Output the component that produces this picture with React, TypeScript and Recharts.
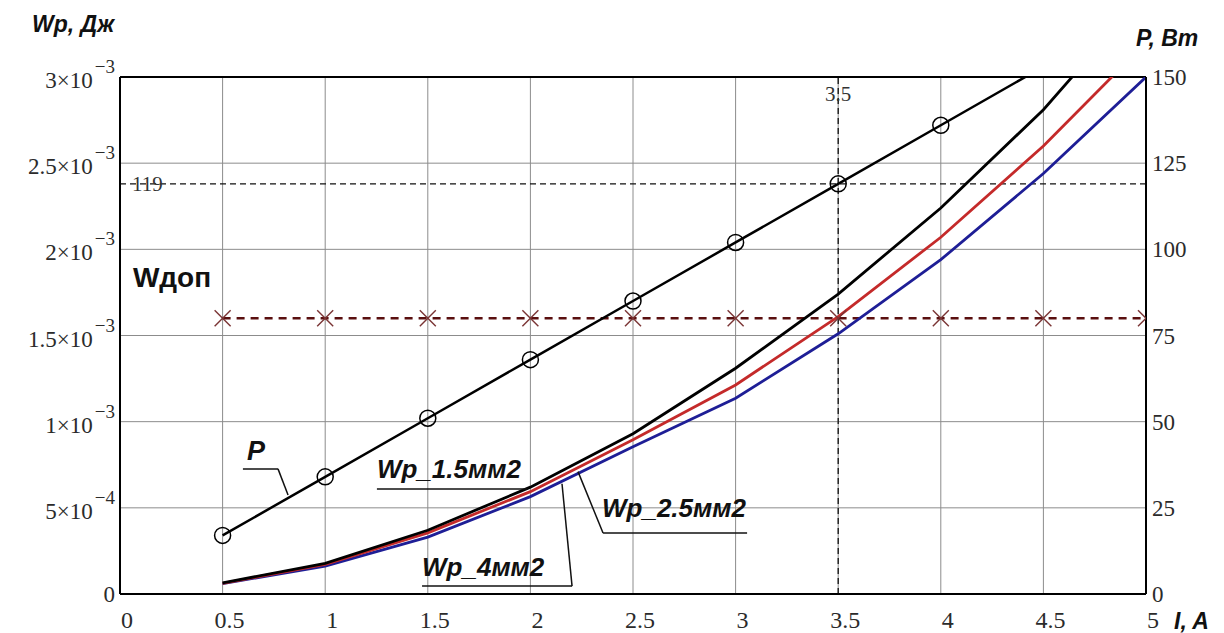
import { ComposedChart, Line, XAxis, YAxis, CartesianGrid, ReferenceLine, ReferenceDot } from 'recharts';

const I_VALUES = [0.5, 1, 1.5, 2, 2.5, 3, 3.5, 4, 4.5, 5];
const P_VALUES = [17, 34, 51, 68, 85, 102, 119, 136, 153, null];
const WP_15 = [0.000065, 0.000178, 0.00037, 0.00062, 0.00093, 0.00131, 0.00174, 0.00224, 0.00281, 0.00349];
const WP_25 = [0.000062, 0.000172, 0.000355, 0.000594, 0.000895, 0.001213, 0.00161, 0.00207, 0.0026, 0.0032];
const WP_4 = [0.00006, 0.000162, 0.00033, 0.000565, 0.000855, 0.001136, 0.00151, 0.00194, 0.00244, 0.003];
const W_DOP = [0.0016, 0.0016, 0.0016, 0.0016, 0.0016, 0.0016, 0.0016, 0.0016, 0.0016, 0.0016];

const X_TICKS = [0, 0.5, 1, 1.5, 2, 2.5, 3, 3.5, 4, 4.5, 5];
const X_LABELS = ['0', '0.5', '1', '1.5', '2', '2.5', '3', '3.5', '4', '4.5', '5'];
const LEFT_TICKS = [0, 0.0005, 0.001, 0.0015, 0.002, 0.0025, 0.003];
const LEFT_MAIN = ['0', '5×10', '1×10', '1.5×10', '2×10', '2.5×10', '3×10'];
const LEFT_EXP = ['', '−4', '−3', '−3', '−3', '−3', '−3'];
const RIGHT_TICKS = [0, 25, 50, 75, 100, 125, 150];

const P_LIMIT = 119;
const I_LIMIT = 3.5;

const data = I_VALUES.map((i, k) => ({
  i,
  p: P_VALUES[k],
  wp15: WP_15[k],
  wp25: WP_25[k],
  wp4: WP_4[k],
  wdop: W_DOP[k],
}));

const SERIF = '"Liberation Serif", "Times New Roman", serif';
const SANS = '"Liberation Sans", Arial, sans-serif';
const TICK_FILL = '#2b2b2b';

const XTick = (props: any) => {
  const { x, y, index } = props;
  return (
    <text x={x + 7} y={y + 34} textAnchor="middle" fontFamily={SERIF} fontSize={24} fill={TICK_FILL}>
      {X_LABELS[index]}
    </text>
  );
};

const LeftTick = (props: any) => {
  const { x, y, index } = props;
  const exp = LEFT_EXP[index];
  return (
    <text x={x} y={y + (exp ? 11 : 8)} textAnchor="end" fontFamily={SERIF} fontSize={23} fill={TICK_FILL}>
      <tspan>{LEFT_MAIN[index]}</tspan>
      {exp && (
        <tspan dy={-15} fontSize={19} dx={2}>
          {exp}
        </tspan>
      )}
    </text>
  );
};

const RightTick = (props: any) => {
  const { x, y, payload } = props;
  return (
    <text x={x} y={y + 8} textAnchor="start" fontFamily={SERIF} fontSize={23} fill={TICK_FILL}>
      {payload.value}
    </text>
  );
};

const CircleDot = (props: any) => {
  const { cx, cy, value, index } = props;
  if (value == null || value > 150) return <g key={`pc-${index}`} />;
  return <circle key={`pc-${index}`} cx={cx} cy={cy} r={8} fill="none" stroke="#000" strokeWidth={1.5} />;
};

const CrossDot = (props: any) => {
  const { cx, cy, index } = props;
  const s = 8;
  return (
    <g key={`cx-${index}`} stroke="#7a3434" strokeWidth={1.4}>
      <line x1={cx - s} y1={cy - s} x2={cx + s} y2={cy + s} />
      <line x1={cx - s} y1={cy + s} x2={cx + s} y2={cy - s} />
    </g>
  );
};

const textAt = (txt: string, opts: { size: number; italic?: boolean }) => (p: any) => (
  <text
    x={p.cx}
    y={p.cy}
    fontFamily={SANS}
    fontWeight="bold"
    fontStyle={opts.italic ? 'italic' : 'normal'}
    fontSize={opts.size}
    fill="#111"
  >
    {txt}
  </text>
);

const lead = { stroke: '#111', strokeWidth: 1.5 };

export default function App() {
  return (
    <div style={{ position: 'absolute', left: 0, top: 0, width: 1224, height: 633, background: '#fff' }}>
      <ComposedChart width={1224} height={633} data={data} margin={{ top: 77, right: 0, bottom: 0, left: 0 }}>
        <CartesianGrid yAxisId="left" stroke="#8c8c8c" strokeWidth={1} />
        <XAxis
          dataKey="i"
          type="number"
          domain={[0, 5]}
          ticks={X_TICKS}
          allowDataOverflow
          height={39}
          tickSize={0}
          tickMargin={0}
          tickLine={false}
          axisLine={{ stroke: '#000', strokeWidth: 2 }}
          tick={<XTick />}
          interval={0}
        />
        <YAxis
          yAxisId="left"
          domain={[0, 0.003]}
          ticks={LEFT_TICKS}
          allowDataOverflow
          width={120}
          tickSize={0}
          tickMargin={5}
          tickLine={false}
          axisLine={{ stroke: '#000', strokeWidth: 2 }}
          tick={<LeftTick />}
          interval={0}
        />
        <YAxis
          yAxisId="right"
          orientation="right"
          domain={[0, 150]}
          ticks={RIGHT_TICKS}
          allowDataOverflow
          width={78}
          tickSize={0}
          tickMargin={6}
          tickLine={false}
          axisLine={{ stroke: '#000', strokeWidth: 2 }}
          tick={<RightTick />}
          interval={0}
        />
        <ReferenceLine yAxisId="left" y={0.003} stroke="#000" strokeWidth={2} />
        <ReferenceLine
          yAxisId="right"
          y={P_LIMIT}
          stroke="#111"
          strokeWidth={1.3}
          strokeDasharray="6 4"
          label={{ value: String(P_LIMIT), position: 'insideLeft', offset: 12, fontFamily: SERIF, fontSize: 21, fill: '#333' }}
        />
        <ReferenceLine
          yAxisId="left"
          x={I_LIMIT}
          stroke="#111"
          strokeWidth={1.3}
          strokeDasharray="6 4"
          label={{ value: String(I_LIMIT), position: 'insideTop', offset: 9, fontFamily: SERIF, fontSize: 21, fill: '#333' }}
        />
        <Line
          yAxisId="left"
          dataKey="wdop"
          stroke="#5a0f0f"
          strokeWidth={2.5}
          strokeDasharray="8 6"
          dot={<CrossDot />}
          isAnimationActive={false}
        />
        <Line yAxisId="left" dataKey="wp4" stroke="#1e1e96" strokeWidth={2.8} dot={false} isAnimationActive={false} />
        <Line yAxisId="left" dataKey="wp25" stroke="#c42a2a" strokeWidth={2.8} dot={false} isAnimationActive={false} />
        <Line yAxisId="left" dataKey="wp15" stroke="#000" strokeWidth={2.8} dot={false} isAnimationActive={false} />
        <Line yAxisId="right" dataKey="p" stroke="#000" strokeWidth={2.5} dot={<CircleDot />} isAnimationActive={false} />

        {/* callouts */}
        <ReferenceDot yAxisId="left" x={0.063} y={0.00178} r={0} shape={textAt('Wдоп', { size: 28 })} />
        <ReferenceDot yAxisId="right" x={0.619} y={38.9} r={0} shape={textAt('P', { size: 27, italic: true })} />
        <ReferenceLine yAxisId="right" segment={[{ x: 0.599, y: 36.3 }, { x: 0.77, y: 36.3 }]} {...lead} />
        <ReferenceLine yAxisId="right" segment={[{ x: 0.77, y: 36.3 }, { x: 0.819, y: 28.7 }]} {...lead} />

        <ReferenceDot yAxisId="right" x={1.252} y={33.6} r={0} shape={textAt('Wp_1.5мм2', { size: 26, italic: true })} />
        <ReferenceLine yAxisId="right" segment={[{ x: 1.252, y: 30.5 }, { x: 1.988, y: 30.5 }]} {...lead} />

        <ReferenceDot yAxisId="right" x={2.349} y={22.3} r={0} shape={textAt('Wp_2.5мм2', { size: 26, italic: true })} />
        <ReferenceLine yAxisId="right" segment={[{ x: 2.354, y: 17.7 }, { x: 3.056, y: 17.7 }]} {...lead} />
        <ReferenceLine yAxisId="right" segment={[{ x: 2.232, y: 35.5 }, { x: 2.354, y: 17.7 }]} {...lead} />

        <ReferenceDot yAxisId="right" x={1.472} y={5.2} r={0} shape={textAt('Wp_4мм2', { size: 26, italic: true })} />
        <ReferenceLine yAxisId="right" segment={[{ x: 1.472, y: 2.3 }, { x: 2.203, y: 2.3 }]} {...lead} />
        <ReferenceLine yAxisId="right" segment={[{ x: 2.154, y: 32 }, { x: 2.203, y: 2.3 }]} {...lead} />
      </ComposedChart>
      <svg width={1224} height={633} style={{ position: 'absolute', left: 0, top: 0, pointerEvents: 'none' }}>
        <g fontFamily={SANS} fontWeight="bold" fontStyle="italic" fontSize={23} fill="#111">
          <text x={32} y={32}>Wp, Дж</text>
          <text x={1136} y={46}>P, Вт</text>
          <text x={1174} y={629}>I, A</text>
        </g>
      </svg>
    </div>
  );
}
